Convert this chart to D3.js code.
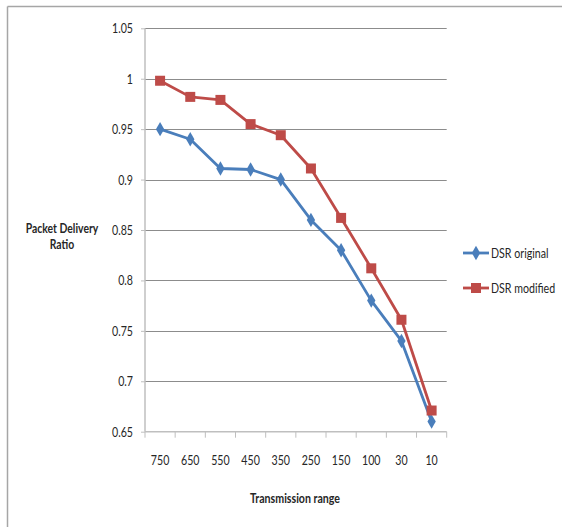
<!DOCTYPE html>
<html><head><meta charset="utf-8">
<script src="https://cdn.jsdelivr.net/npm/d3@7"></script>
<style>
html,body{margin:0;padding:0;background:#fff;}
svg{display:block;}
text{font-family:Lato,"Open Sans",sans-serif;fill:#262626;}
</style></head>
<body>
<svg id="chart" width="562" height="527"></svg>
<script>
const categories = ["750","650","550","450","350","250","150","100","30","10"];
const dsrOriginal = [0.95,0.94,0.911,0.91,0.90,0.86,0.83,0.78,0.74,0.66];
const dsrModified = [0.998,0.982,0.979,0.955,0.944,0.911,0.862,0.812,0.761,0.671];
const yTicks = [0.65,0.7,0.75,0.8,0.85,0.9,0.95,1,1.05];
const yTickLabels = ["0.65","0.7","0.75","0.8","0.85","0.9","0.95","1","1.05"];
const seriesNames = ["DSR original","DSR modified"];
const colors = ["#4a7ebb","#be4b48"];

const svg = d3.select("#chart");
const L = 145, R = 446.7, T = 28.3, B = 431.7;
const SX = 0.76; // horizontal squeeze of the reference text

function squeeze(sel, sx){
  const f = sx || SX;
  sel.each(function(){
    const s = d3.select(this);
    const tx = +s.attr("x") || 0, ty = +s.attr("y") || 0;
    s.attr("x",0).attr("y",0).attr("transform",`translate(${tx},${ty}) scale(${f},1)`);
  });
}

// outer frame (top and left only visible)
svg.append("line").attr("x1",7.5).attr("x2",562).attr("y1",6.5).attr("y2",6.5).attr("stroke","#a6a6a6").attr("stroke-width",1.5);
svg.append("line").attr("x1",7.5).attr("x2",7.5).attr("y1",6.5).attr("y2",527).attr("stroke","#a6a6a6").attr("stroke-width",1.5);

const x = d3.scaleBand().domain(categories).range([L,R]).padding(0);
const y = d3.scaleLinear().domain([0.65,1.05]).range([B,T]);

// gridlines
svg.append("g").selectAll("line").data(yTicks.filter(d=>d>0.65)).join("line")
  .attr("x1",L).attr("x2",R).attr("y1",d=>Math.round(y(d))+0.5).attr("y2",d=>Math.round(y(d))+0.5)
  .attr("stroke","#8c8c8c").attr("stroke-width",1);

// y axis
const yAxis = d3.axisLeft(y).tickValues(yTicks).tickFormat((d,i)=>yTickLabels[i]).tickSize(4).tickPadding(8);
const gy = svg.append("g").attr("transform",`translate(${L},0)`).call(yAxis);
gy.select(".domain").attr("stroke","#bfbfbf").attr("stroke-width",1.5).attr("d",`M0,${T}V${B}`);
gy.selectAll(".tick line").attr("stroke","#bfbfbf");
gy.selectAll(".tick text").style("font-size","14px").style("font-family","Lato, sans-serif").attr("fill","#333").call(squeeze);

// x axis
const xAxis = d3.axisBottom(x).tickSize(0).tickPadding(23);
const gx = svg.append("g").attr("transform",`translate(0,${B})`).call(xAxis);
gx.select(".domain").attr("stroke","#bfbfbf").attr("stroke-width",1.5).attr("d",`M${L},0H${R}`);
gx.selectAll(".tick text").style("font-size","14px").style("font-family","Lato, sans-serif").attr("fill","#333").call(squeeze);
// boundary ticks
const bounds = categories.map(c=>x(c)).concat([R]);
gx.append("g").selectAll("line").data(bounds).join("line")
  .attr("x1",d=>d).attr("x2",d=>d).attr("y1",0).attr("y2",6).attr("stroke","#bfbfbf").attr("stroke-width",1);

// lines
const cx = c => x(c) + x.bandwidth()/2;
const line = d3.line().x((d,i)=>cx(categories[i])).y(d=>y(d));
[dsrOriginal,dsrModified].forEach((s,k)=>{
  svg.append("path").datum(s).attr("d",line).attr("fill","none").attr("stroke",colors[k]).attr("stroke-width",2.8).attr("stroke-linejoin","round");
});
// markers
const diamond = d3.symbol().type(d3.symbolDiamond).size(60);
svg.append("g").selectAll("path").data(dsrOriginal).join("path")
  .attr("transform",(d,i)=>`translate(${cx(categories[i])},${y(d)})`)
  .attr("d",diamond()).attr("fill",colors[0]);
svg.append("g").selectAll("rect").data(dsrModified).join("rect")
  .attr("x",(d,i)=>cx(categories[i])-5).attr("y",d=>y(d)-5).attr("width",10).attr("height",10).attr("fill",colors[1]);

// legend
const legY = [253,288];
seriesNames.forEach((n,k)=>{
  const g = svg.append("g").attr("transform",`translate(463,${legY[k]})`);
  g.append("line").attr("x1",0).attr("x2",26).attr("y1",0).attr("y2",0).attr("stroke",colors[k]).attr("stroke-width",2.8);
  if(k===0) g.append("path").attr("transform","translate(13,0)").attr("d",diamond()).attr("fill",colors[k]);
  else g.append("rect").attr("x",8).attr("y",-5).attr("width",10).attr("height",10).attr("fill",colors[k]);
  g.append("text").attr("x",28).attr("y",0).attr("dy","0.35em").style("font-size","14px").text(n).call(squeeze);
});

// axis titles
svg.append("text").attr("x",295).attr("y",498).attr("dy","0.35em").attr("text-anchor","middle")
  .style("font-size","14px").style("font-weight","bold").text("Transmission range").call(squeeze);
const yt = svg.append("g").style("font-size","13px").style("font-weight","bold");
yt.append("text").attr("text-anchor","middle").attr("x",62).attr("y",228).attr("dy","0.35em").text("Packet Delivery").call(squeeze, 0.8);
yt.append("text").attr("text-anchor","middle").attr("x",62).attr("y",244).attr("dy","0.35em").text("Ratio").call(squeeze, 0.8);
</script>
</body></html>
